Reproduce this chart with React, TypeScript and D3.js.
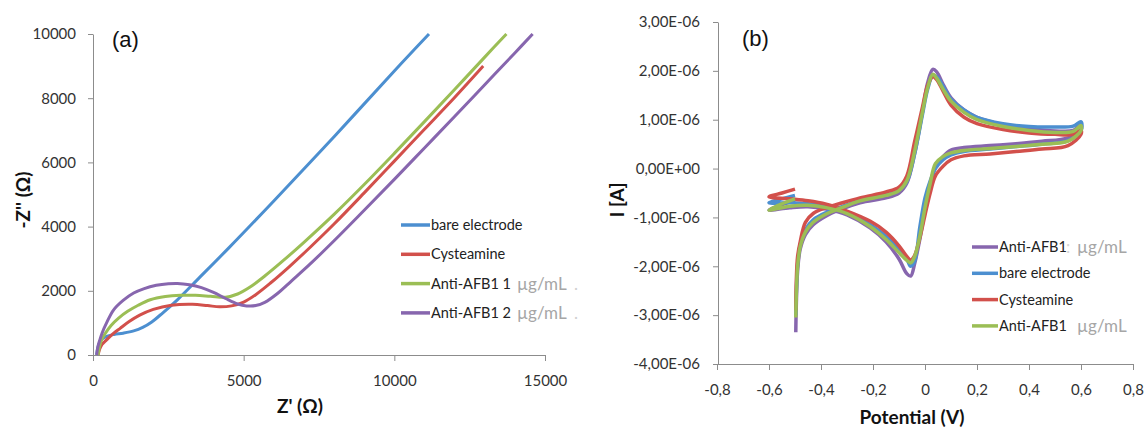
import React, { useRef, useEffect } from "react";
import * as d3 from "d3";

// series colours (Excel palette)
const BLUE = "#4c8fd0";
const RED = "#d2504b";
const GREEN = "#9bbe55";
const PURPLE = "#8766ae";
const AXIS = "#8c8c8c";
const TICK_TEXT = "#333333";

// ---------- (a) Nyquist plot, Z' and -Z'' in ohm ----------
const bareZre = [120, 180, 280, 450, 700, 1000, 1350, 1650, 1950, 2300, 2800, 3500, 4500, 6000, 8000, 10000, 11150];
const bareZim = [0, 300, 480, 580, 640, 680, 750, 860, 1030, 1300, 1720, 2380, 3330, 4800, 6800, 8850, 10000];

const cystZre = [170, 220, 300, 450, 650, 900, 1200, 1550, 2000, 2600, 3300, 3800, 4200, 4600, 5000, 5400, 5900, 6500, 7200, 8000, 9000, 10000, 11000, 12000, 12950];
const cystZim = [0, 180, 330, 470, 650, 830, 1040, 1240, 1420, 1550, 1580, 1540, 1500, 1530, 1650, 1880, 2250, 2740, 3350, 4080, 5050, 6040, 7030, 8020, 9000];

const anti1Zre = [170, 220, 300, 420, 600, 850, 1150, 1500, 1900, 2400, 2900, 3400, 3900, 4400, 4800, 5200, 5700, 6300, 7000, 8000, 9000, 10000, 11000, 12000, 13000, 13720];
const anti1Zim = [0, 280, 500, 690, 920, 1150, 1360, 1550, 1720, 1820, 1860, 1860, 1830, 1800, 1900, 2110, 2460, 2930, 3510, 4380, 5310, 6280, 7270, 8270, 9280, 10000];

const anti2Zre = [120, 160, 220, 300, 450, 680, 1000, 1350, 1700, 2100, 2500, 2800, 3200, 3600, 4000, 4400, 4800, 5100, 5400, 5700, 6100, 6600, 7200, 8000, 9000, 10000, 11000, 12000, 13000, 14000, 14590];
const anti2Zim = [0, 250, 450, 680, 1000, 1400, 1700, 1930, 2070, 2170, 2220, 2230, 2190, 2100, 1950, 1760, 1590, 1530, 1540, 1640, 1900, 2320, 2830, 3560, 4510, 5470, 6450, 7430, 8420, 9410, 10000];

const impTicksX = [0, 5000, 10000, 15000];
const impTicksY = [0, 2000, 4000, 6000, 8000, 10000];
const legendA = ["bare electrode", "Cysteamine", "Anti-AFB1 1", "Anti-AFB1 2"];

// ---------- (b) cyclic voltammograms, potential in V, current in µA ----------
const cvPotential = [
  -0.497, -0.495, -0.49, -0.48, -0.46, -0.43, -0.38, -0.33, -0.25, -0.15, -0.1, -0.07, -0.04, -0.01, 0.01, 0.03, 0.045,
  0.07, 0.1, 0.15, 0.2, 0.3, 0.4, 0.5, 0.57, 0.6, 0.6, 0.55, 0.45, 0.35, 0.25, 0.15, 0.1, 0.07, 0.04, 0.02, 0.0, -0.02,
  -0.04, -0.055, -0.07, -0.1, -0.15, -0.21, -0.3, -0.38, -0.45, -0.52, -0.6, -0.55, -0.5,
];
const cvAntiHigh = [
  -3.35, -2.8, -2.1, -1.65, -1.35, -1.15, -0.97, -0.85, -0.7, -0.6, -0.5, -0.3, 0.3, 1.15, 1.75, 2.03, 1.98,
  1.72, 1.45, 1.2, 1.05, 0.9, 0.82, 0.77, 0.78, 0.9, 0.8, 0.63, 0.56, 0.51, 0.47, 0.43, 0.38, 0.25, 0.02, -0.35, -0.85, -1.45,
  -1.95, -2.2, -2.15, -1.85, -1.5, -1.22, -0.95, -0.83, -0.78, -0.8, -0.85, -0.74, -0.65,
];
const cvBare = [
  -3.0, -2.55, -1.95, -1.55, -1.25, -1.05, -0.9, -0.8, -0.65, -0.54, -0.45, -0.27, 0.3, 1.1, 1.62, 1.9, 1.88,
  1.68, 1.42, 1.2, 1.05, 0.92, 0.86, 0.85, 0.87, 0.96, 0.78, 0.57, 0.5, 0.45, 0.4, 0.35, 0.28, 0.18, 0.0, -0.25, -0.6, -1.2,
  -1.9, -2.0, -1.85, -1.65, -1.38, -1.15, -0.9, -0.78, -0.72, -0.7, -0.7, -0.62, -0.55,
];
const cvCyst = [
  -2.9, -2.3, -1.8, -1.5, -1.1, -0.92, -0.8, -0.72, -0.6, -0.48, -0.38, -0.15, 0.55, 1.25, 1.7, 1.88, 1.82,
  1.58, 1.3, 1.05, 0.92, 0.8, 0.73, 0.7, 0.7, 0.79, 0.7, 0.47, 0.4, 0.35, 0.3, 0.26, 0.18, 0.05, -0.15, -0.5, -0.95, -1.42,
  -1.78, -1.87, -1.8, -1.58, -1.3, -1.08, -0.87, -0.73, -0.66, -0.62, -0.58, -0.5, -0.42,
];
const cvAntiLow = [
  -3.05, -2.6, -2.0, -1.6, -1.3, -1.1, -0.93, -0.82, -0.66, -0.55, -0.45, -0.25, 0.35, 1.15, 1.65, 1.93, 1.85,
  1.62, 1.38, 1.15, 1.0, 0.86, 0.78, 0.74, 0.76, 0.88, 0.78, 0.56, 0.5, 0.45, 0.41, 0.37, 0.32, 0.25, 0.1, -0.3, -0.8, -1.39,
  -1.8, -1.93, -1.88, -1.72, -1.45, -1.19, -0.92, -0.8, -0.75, -0.77, -0.85, -0.72, -0.62,
];

const cvTicksX = [-0.8, -0.6, -0.4, -0.2, 0, 0.2, 0.4, 0.6, 0.8];
const cvTicksY = [-4, -3, -2, -1, 0, 1, 2, 3];
const legendB = ["Anti-AFB1", "bare electrode", "Cysteamine", "Anti-AFB1"];

const FONT = "Lato, 'Open Sans', sans-serif";

export default function App() {
  const svgRef = useRef<SVGSVGElement>(null);

  useEffect(() => {
    const svg = d3.select(svgRef.current);
    svg.selectAll("*").remove();

    const styleAxis = (g: any) => {
      g.attr("font-family", FONT).attr("font-size", 15);
      g.select(".domain").attr("stroke", AXIS);
      g.selectAll(".tick line").attr("stroke", AXIS);
      g.selectAll(".tick text").attr("fill", TICK_TEXT);
    };

    //---------------- panel (a)
    const xA = d3.scaleLinear().domain([0, 15000]).range([93, 545]);
    const yA = d3.scaleLinear().domain([0, 10000]).range([355, 34]);

    svg.append("g")
      .attr("transform", "translate(0,355)")
      .call(d3.axisBottom(xA).tickValues(impTicksX).tickSize(6).tickSizeOuter(0).tickPadding(14).tickFormat(d3.format("d")))
      .call(styleAxis);
    svg.append("g")
      .attr("transform", "translate(93,0)")
      .call(d3.axisLeft(yA).tickValues(impTicksY).tickSize(5).tickSizeOuter(0).tickPadding(12).tickFormat(d3.format("d")))
      .call(styleAxis);

    const impSeries = [
      { x: bareZre, y: bareZim, color: BLUE },
      { x: cystZre, y: cystZim, color: RED },
      { x: anti1Zre, y: anti1Zim, color: GREEN },
      { x: anti2Zre, y: anti2Zim, color: PURPLE },
    ];
    const lineA = d3.line<number[]>().x((d) => xA(d[0])).y((d) => yA(d[1])).curve(d3.curveCatmullRom.alpha(0.5));
    impSeries.forEach((s) => {
      svg.append("path")
        .attr("d", lineA(s.x.map((v, i) => [v, s.y[i]])))
        .attr("fill", "none")
        .attr("stroke", s.color)
        .attr("stroke-width", 3)
        .attr("stroke-linejoin", "round");
    });

    const legA = svg.append("g").attr("font-family", FONT);
    legendA.forEach((name, i) => {
      const y = 225 + i * 29.3;
      legA.append("line").attr("x1", 401).attr("x2", 430).attr("y1", y).attr("y2", y)
        .attr("stroke", impSeries[i].color).attr("stroke-width", 3.5);
      legA.append("text").attr("x", 431).attr("y", y + 5).attr("font-size", 14.5).attr("fill", "#222").text(name);
      if (i >= 2) {
        legA.append("text").attr("x", 517).attr("y", y + 6).attr("font-size", 17).attr("fill", "#a6a6a6").text("µg/mL");
        legA.append("text").attr("x", 574).attr("y", y + 6).attr("font-size", 17).attr("fill", "#d0d0d0").text(".");
      }
    });

    svg.append("text").attr("x", 112).attr("y", 47).attr("font-family", "'Liberation Sans', Arial, sans-serif")
      .attr("font-size", 22).attr("fill", "#111").text("(a)");
    svg.append("text").attr("transform", "translate(22,200) rotate(-90)").attr("text-anchor", "middle")
      .attr("dominant-baseline", "central").attr("font-family", FONT).attr("font-weight", "bold")
      .attr("font-size", 19).attr("fill", "#111").text("-Z'' (Ω)");
    svg.append("text").attr("x", 300).attr("y", 413).attr("text-anchor", "middle").attr("font-family", FONT)
      .attr("font-weight", "bold").attr("font-size", 19).attr("fill", "#111").text("Z' (Ω)");

    //---------------- panel (b)
    const xB = d3.scaleLinear().domain([-0.8, 0.8]).range([717, 1133]);
    const yB = d3.scaleLinear().domain([-4, 3]).range([364, 22]);

    const fmtV = (v: number) => (Math.abs(v) < 1e-9 ? "0" : v.toFixed(1).replace(".", ","));
    const fmtI = (v: number) => (v === 0 ? "0,00E+00" : `${v.toFixed(2).replace(".", ",")}E-06`);

    svg.append("g")
      .attr("transform", "translate(0,364)")
      .call(d3.axisBottom(xB).tickValues(cvTicksX).tickSize(6).tickSizeOuter(0).tickPadding(14).tickFormat(fmtV as any))
      .call(styleAxis);
    svg.append("g")
      .attr("transform", "translate(718,0)")
      .call(d3.axisLeft(yB).tickValues(cvTicksY).tickSize(5).tickSizeOuter(0).tickPadding(13).tickFormat(fmtI as any))
      .call(styleAxis);

    const cvSeries = [
      { y: cvAntiHigh, color: PURPLE },
      { y: cvBare, color: BLUE },
      { y: cvCyst, color: RED },
      { y: cvAntiLow, color: GREEN },
    ];
    const lineB = d3.line<number[]>().x((d) => xB(d[0])).y((d) => yB(d[1])).curve(d3.curveCatmullRom.alpha(0.5));
    cvSeries.forEach((s) => {
      svg.append("path")
        .attr("d", lineB(cvPotential.map((v, i) => [v, s.y[i]])))
        .attr("fill", "none")
        .attr("stroke", s.color)
        .attr("stroke-width", 3.5)
        .attr("stroke-linejoin", "round");
    });

    const legB = svg.append("g").attr("font-family", FONT);
    legendB.forEach((name, i) => {
      const y = 247 + i * 26.3;
      legB.append("line").attr("x1", 972).attr("x2", 998).attr("y1", y).attr("y2", y)
        .attr("stroke", cvSeries[i].color).attr("stroke-width", 3.5);
      legB.append("text").attr("x", 999).attr("y", y + 5).attr("font-size", 14.5).attr("fill", "#222").text(name);
      if (i === 0) {
        legB.append("text").attr("x", 1066).attr("y", y + 6).attr("font-size", 17).attr("fill", "#d6d6d6").text(":");
      }
      if (i === 0 || i === 3) {
        legB.append("text").attr("x", 1077).attr("y", y + 6).attr("font-size", 17).attr("fill", "#a6a6a6").text("µg/mL");
      }
    });

    svg.append("text").attr("x", 742).attr("y", 46).attr("font-family", "'Liberation Sans', Arial, sans-serif")
      .attr("font-size", 22).attr("fill", "#111").text("(b)");
    svg.append("text").attr("transform", "translate(616,200) rotate(-90)").attr("text-anchor", "middle")
      .attr("dominant-baseline", "central").attr("font-family", FONT).attr("font-weight", "bold")
      .attr("font-size", 19).attr("fill", "#111").text("I [A]");
    svg.append("text").attr("x", 912).attr("y", 424).attr("text-anchor", "middle").attr("font-family", FONT)
      .attr("font-weight", "bold").attr("font-size", 19).attr("fill", "#111").text("Potential (V)");
  }, []);

  return (
    <svg
      ref={svgRef}
      width={1144}
      height={428}
      style={{ position: "absolute", left: 0, top: 0, background: "#fff" }}
    />
  );
}
